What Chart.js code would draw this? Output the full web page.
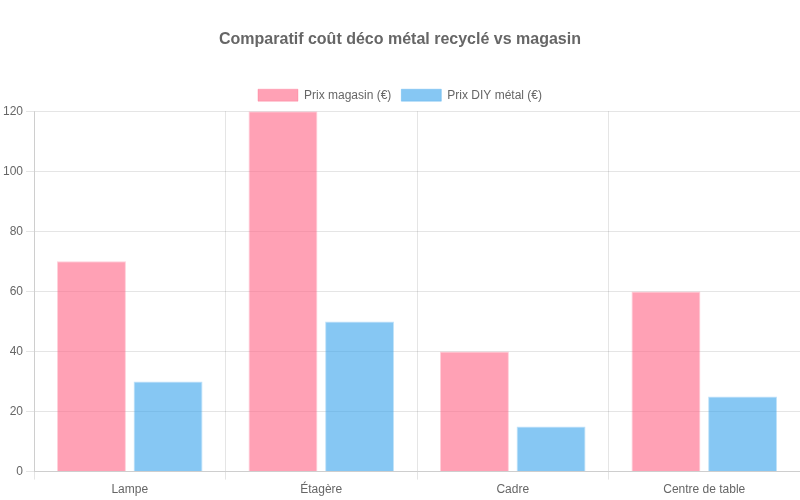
<!DOCTYPE html>
<html lang="fr">
<head>
  <meta charset="UTF-8">
  <title>Comparatif coût déco métal recyclé vs magasin</title>
  <script src="https://cdn.jsdelivr.net/npm/chart.js"></script>
  <style>
    body { margin: 0; background: #fff; }
    #wrap { width: 800px; height: 500px; }
  </style>
</head>
<body>
  <div id="wrap"><canvas id="chart"></canvas></div>
  <script>
    const categories = ['Lampe', 'Étagère', 'Cadre', 'Centre de table'];
    const prixMagasin = [70, 120, 40, 60];
    const prixDIY = [30, 50, 15, 25];

    Chart.defaults.font.family = '"Liberation Sans", Arial, sans-serif';
    Chart.defaults.color = '#666';

    new Chart(document.getElementById('chart'), {
      type: 'bar',
      data: {
        labels: categories,
        datasets: [
          { label: 'Prix magasin (€)', data: prixMagasin, backgroundColor: 'rgba(255,99,132,0.6)', borderColor: 'rgba(255,99,132,0.3)', borderWidth: 1 },
          { label: 'Prix DIY métal (€)', data: prixDIY, backgroundColor: 'rgba(54,162,235,0.6)', borderColor: 'rgba(54,162,235,0.3)', borderWidth: 1 }
        ]
      },
      options: {
        responsive: true,
        maintainAspectRatio: false,
        animation: false,
        plugins: {
          title: {
            display: true,
            text: 'Comparatif coût déco métal recyclé vs magasin',
            font: { size: 16, weight: 'bold' },
            padding: { top: 30, bottom: 30 }
          },
          legend: { labels: { boxWidth: 40, boxHeight: 12 } }
        },
        scales: {
          y: { min: 0, max: 120, ticks: { stepSize: 20 } }
        }
      }
    });
  </script>
</body>
</html>
